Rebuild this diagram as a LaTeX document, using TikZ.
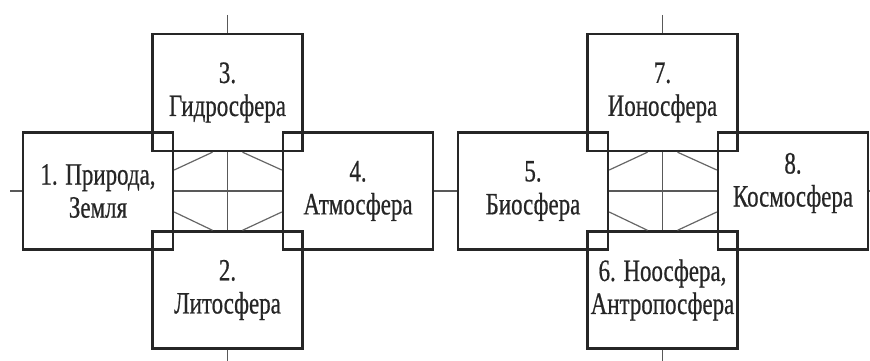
\documentclass[tikz,border=0pt]{standalone}
\usepackage{fontspec}
\usetikzlibrary{calc}
\newfontfamily\rf[FakeStretch=0.74,FakeBold=0.6]{Liberation Serif}
\begin{document}
\begin{tikzpicture}[x=1pt,y=-1pt,
  sphere/.style={draw=black!85,line width=2.4pt,minimum width=150pt,minimum height=117pt,
    inner sep=0pt,align=center,font=\rf\fontsize{31}{33}\selectfont,text=black!85},
  txt/.style={inner sep=0pt,align=center,font=\rf\fontsize{31}{33}\selectfont,text=black!85},
  axis/.style={draw=black!65,line width=1.2pt},
  link/.style={draw=black!60,line width=1.2pt}]
\useasboundingbox (0,0) rectangle (870,361);
% left cluster
\node[sphere] (b1) at (98,191) {1. Природа,\\Земля};
\node[sphere] (b3) at (227.5,92.5) {3.\\Гидросфера};
\node[sphere] (b4) at (358,191) {4.\\Атмосфера};
\node[sphere] (b2) at (227.5,290) {2.\\Литосфера};
% right cluster
\node[sphere] (b5) at (533,191) {5.\\Биосфера};
\node[sphere] (b7) at (662.5,92.5) {7.\\Ионосфера};
\node[sphere] (b8) at (793,191) {};
\node[txt] (t8) at (793,183) {8.\\Космосфера};
\node[sphere] (b6) at (662.5,290) {6. Ноосфера,\\Антропосфера};
% axes ends
\coordinate (L) at (10,191);
\coordinate (R) at (870,191);
\coordinate (T1) at (227.5,15);
\coordinate (D1) at (227.5,361);
\coordinate (T2) at (662.5,15);
\coordinate (D2) at (662.5,361);
% axes
\draw[axis] (L) -- (b1.west);
\draw[axis] (b1.east) -- (b4.west);
\draw[axis] (b4.east) -- (b5.west);
\draw[axis] (b5.east) -- (b8.west);
\draw[axis] (b8.east) -- (R);
\draw[axis] (T1) -- (b3.north);
\draw[axis] (b3.south) -- (b2.north);
\draw[axis] (b2.south) -- (D1);
\draw[axis] (T2) -- (b7.north);
\draw[axis] (b7.south) -- (b6.north);
\draw[axis] (b6.south) -- (D2);
% diagonals
\foreach \l/\t/\r/\b in {b1/b3/b4/b2, b5/b7/b8/b6}{
  \draw[link] ($(\l.east)+(0,-21)$) -- ($(\t.south)+(-15,0)$);
  \draw[link] ($(\t.south)+(15,0)$) -- ($(\r.west)+(0,-21)$);
  \draw[link] ($(\l.east)+(0,21)$) -- ($(\b.north)+(-15,0)$);
  \draw[link] ($(\b.north)+(15,0)$) -- ($(\r.west)+(0,21)$);
}
\end{tikzpicture}
\end{document}
